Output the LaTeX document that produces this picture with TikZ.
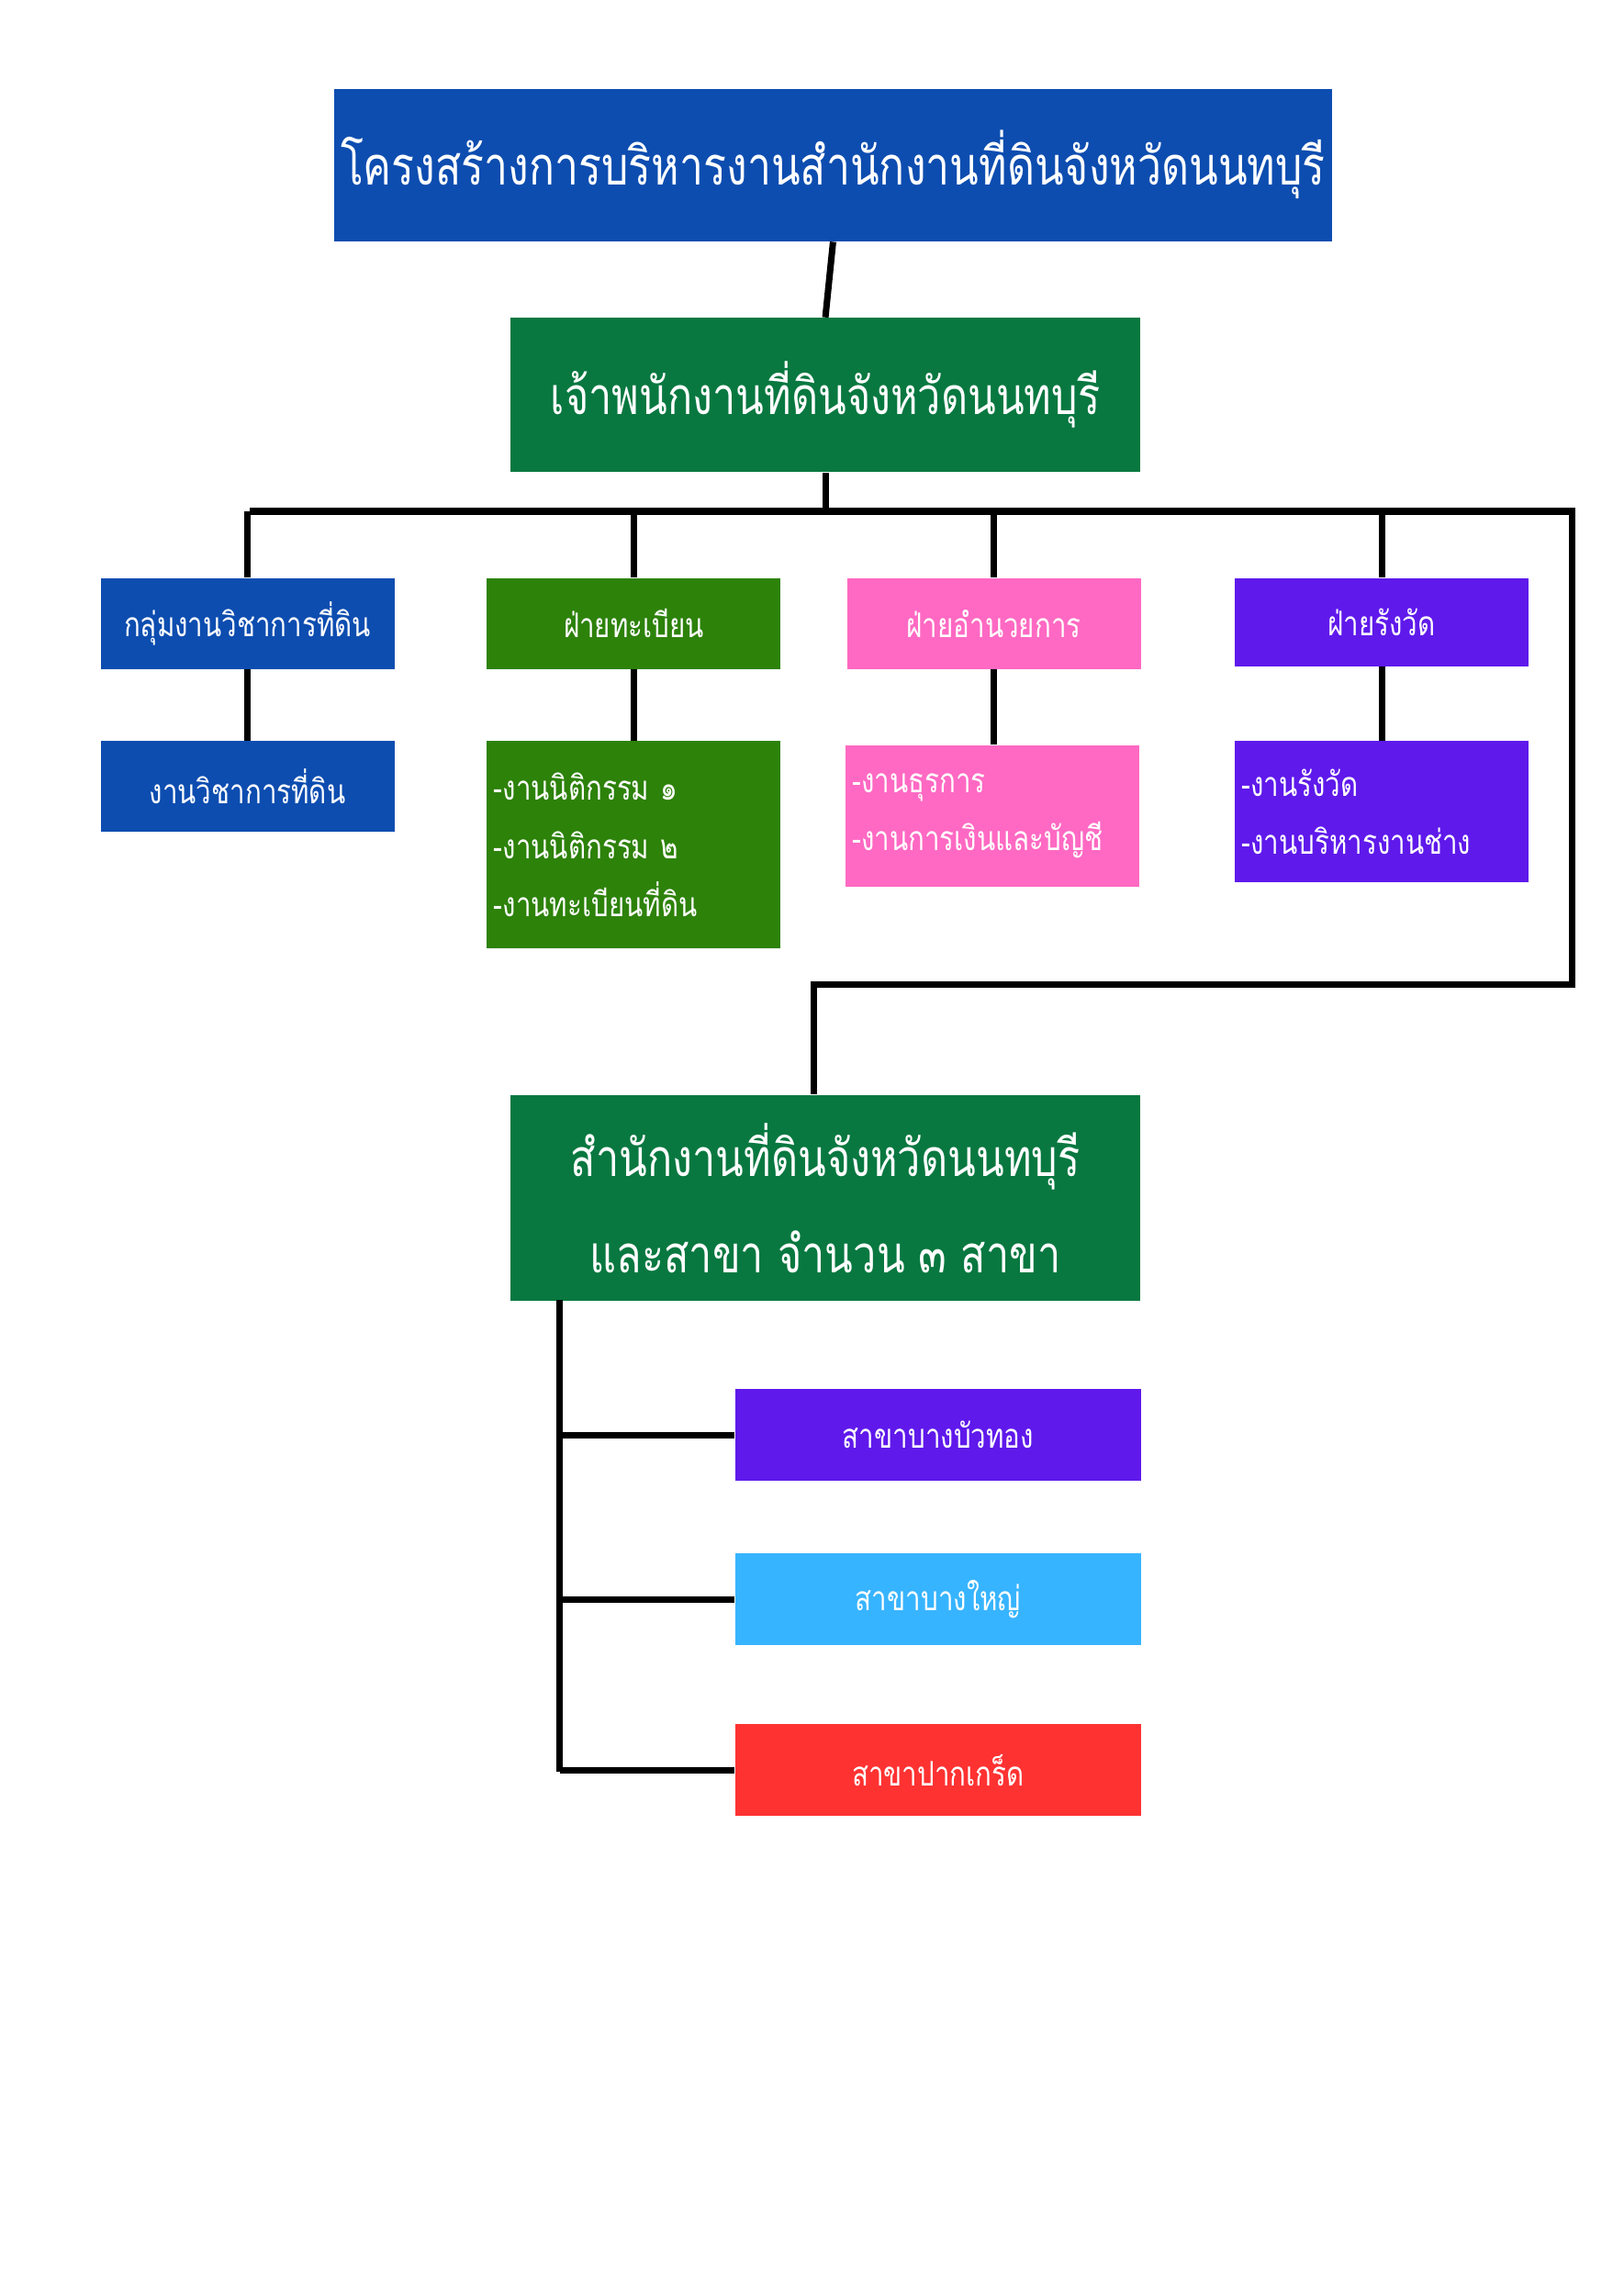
\documentclass[tikz,border=0pt]{standalone}
\usepackage{fontspec}
\newfontfamily\thaifont[Script=Thai,FakeStretch=0.8]{Loma}
\usetikzlibrary{calc}
\definecolor{boxblue}{RGB}{13,77,176}
\definecolor{boxgreen}{RGB}{8,120,64}
\definecolor{leafgreen}{RGB}{45,130,10}
\definecolor{boxpink}{RGB}{255,105,195}
\definecolor{boxpurple}{RGB}{95,25,235}
\definecolor{boxsky}{RGB}{55,180,255}
\definecolor{boxred}{RGB}{255,50,50}
\tikzset{
  /tikz/.cd,
  unit/.style={anchor=north west,text=white,font=\thaifont\fontsize{10.5}{13}\selectfont,
               minimum width=3.2cm,minimum height=0.99cm,inner sep=2pt},
  tasks/.style={unit,align=left,text width=3.05cm,font=\thaifont\fontsize{10.5}{18}\selectfont},
  link/.style={line width=2pt}
}

\begin{document}
\begin{tikzpicture}[x=0.016cm,y=-0.016cm,
                        branch/.style={unit,minimum width=4.42cm,minimum height=1.0cm}]
      \useasboundingbox (0,0) rectangle (1105,1562);

      \node[unit,fill=boxblue,minimum width=10.74cm,minimum height=1.66cm,
            font=\thaifont\fontsize{16.5}{20}\selectfont] (title) at (227,60) {โครงสร้างการบริหารงานสำนักงานที่ดินจังหวัดนนทบุรี};
      \node[unit,fill=boxgreen,minimum width=6.86cm,minimum height=1.68cm,
            font=\thaifont\fontsize{16}{20}\selectfont] (chief) at (347,216) {เจ้าพนักงานที่ดินจังหวัดนนทบุรี};

      \node[unit,fill=boxblue] (academic) at (68,393) {กลุ่มงานวิชาการที่ดิน};
      \node[unit,fill=leafgreen] (registry) at (331,393) {ฝ่ายทะเบียน};
      \node[unit,fill=boxpink] (admin) at (576,393) {ฝ่ายอำนวยการ};
      \node[unit,fill=boxpurple,minimum height=0.96cm] (survey) at (840,393) {ฝ่ายรังวัด};

      \node[unit,fill=boxblue] (academicjob) at (68,504) {งานวิชาการที่ดิน};
      \node[tasks,fill=leafgreen,minimum height=2.26cm] (registryjob) at (331,504) {-งานนิติกรรม ๑\\-งานนิติกรรม ๒\\-งานทะเบียนที่ดิน};
      \node[tasks,fill=boxpink,minimum height=1.54cm] (adminjob) at (575,507) {-งานธุรการ\\-งานการเงินและบัญชี};
      \node[tasks,fill=boxpurple,minimum height=1.54cm] (surveyjob) at (840,504) {-งานรังวัด\\-งานบริหารงานช่าง};

      \node[unit,fill=boxgreen,minimum width=6.86cm,minimum height=2.24cm,align=center,
            font=\thaifont\fontsize{16}{30}\selectfont] (office) at (347,745) {สำนักงานที่ดินจังหวัดนนทบุรี\\และสาขา จำนวน ๓ สาขา};

      \node[branch,fill=boxpurple] (bangbuathong) at (500,945) {สาขาบางบัวทอง};
      \node[branch,fill=boxsky] (bangyai) at (500,1057) {สาขาบางใหญ่};
      \node[branch,fill=boxred] (pakkret) at (500,1173) {สาขาปากเกร็ด};

      \coordinate (busL) at (170,348);
      \coordinate (busR) at (1070,348);
      \coordinate (loop) at (1070,670);
      \coordinate (turn) at (554,670);
      \coordinate (trunk) at (381,885);
      \coordinate (trunkend) at (381,1206);

      \draw[link] (title.south) -- (chief.north);
      \draw[link] (chief.south) -- (chief.south |- busL);
      \draw[link] (busL) -- (busR) -- (loop) -- (turn) -- (turn |- office.north);
      \foreach \g in {academic,registry,admin,survey}
        \draw[link] (\g.north) -- (\g.north |- busL);
      \draw[link] (academic) -- (academicjob);
      \draw[link] (registry) -- (registryjob);
      \draw[link] (admin.south) -- (adminjob.north -| admin.south);
      \draw[link] (survey) -- (surveyjob);
      \draw[link] (trunk) -- (trunkend);
      \foreach \b in {bangbuathong,bangyai,pakkret}
        \draw[link] (trunk |- \b.west) -- (\b.west);
    \end{tikzpicture}
\end{document}
